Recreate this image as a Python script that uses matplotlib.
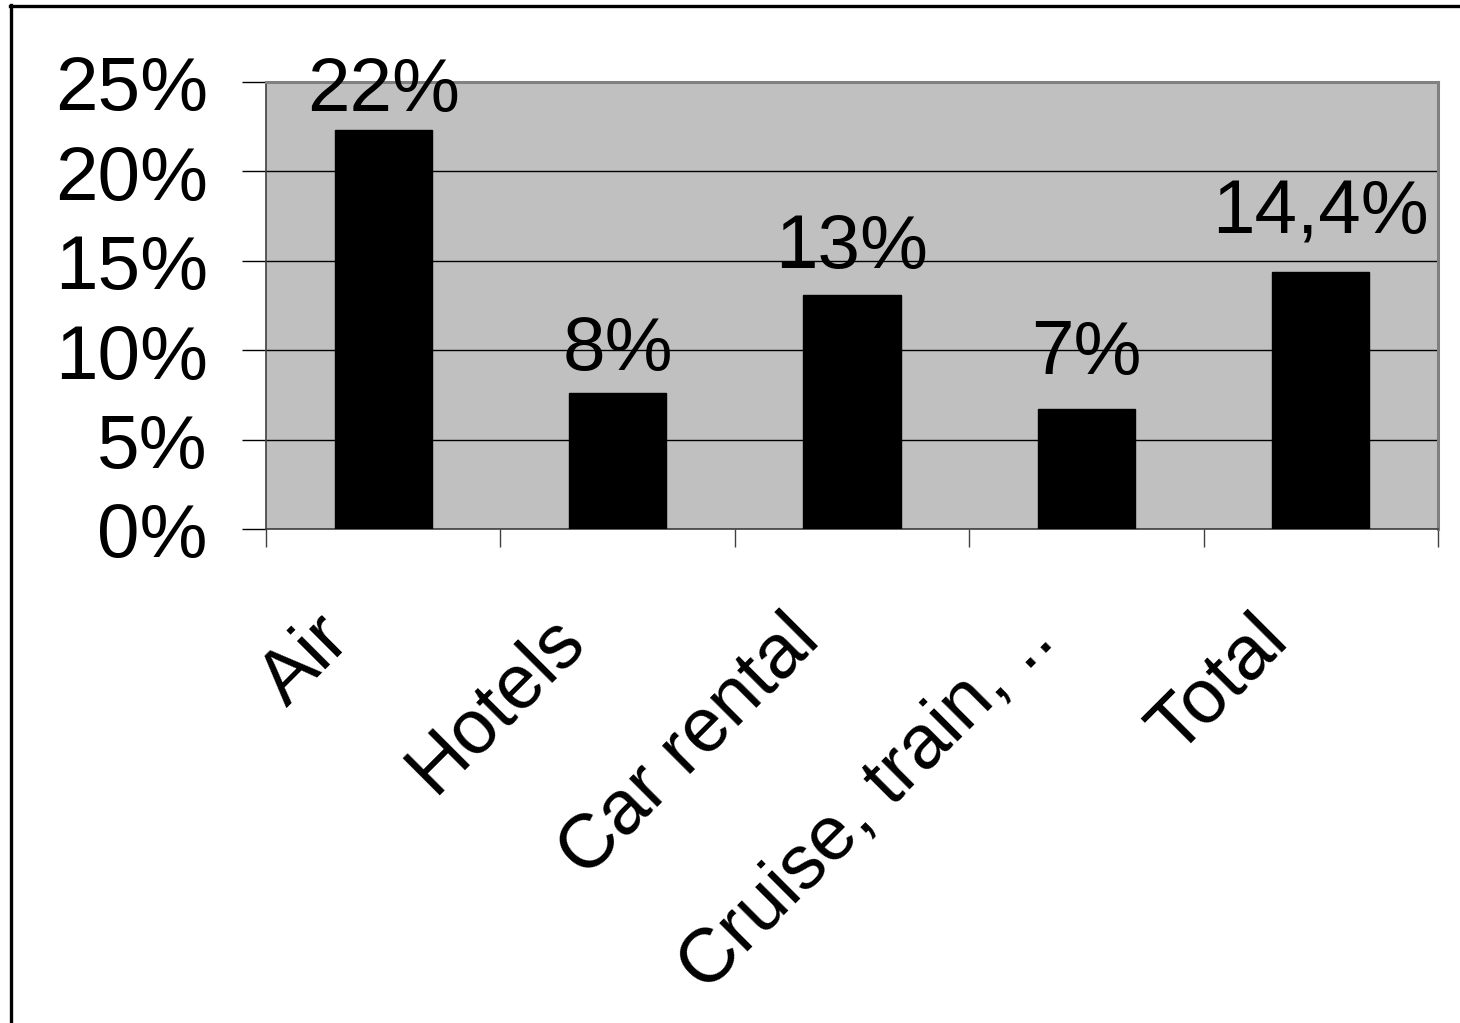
import matplotlib
matplotlib.use("Agg")
import matplotlib.pyplot as plt
from matplotlib.lines import Line2D

# Growth by travel segment
categories = ["Air", "Hotels", "Car rental", "Cruise, train, ..", "Total"]
values = [22.3, 7.6, 13.1, 6.7, 14.4]
label_decimals = [0, 0, 0, 0, 1]
y_ticks = [0, 5, 10, 15, 20, 25]

# vertical gap (pixels) between each bar top and its value label baseline
label_gaps_px = [19, 23, 27, 35, 38]

plt.rcParams["font.family"] = ["Liberation Sans", "DejaVu Sans"]
FS = 55
PX = 0.72  # points per pixel at 100 dpi

W, H = 1460, 1023
fig = plt.figure(figsize=(W / 100, H / 100), dpi=100)
fig.patch.set_facecolor("white")

# outer frame (top and left edges visible)
fig.add_artist(Line2D([10 / W, 1.0], [1 - 6 / H, 1 - 6 / H], color="black",
                      lw=2.4, transform=fig.transFigure))
fig.add_artist(Line2D([11 / W, 11 / W], [0.0, 1 - 5 / H], color="black",
                      lw=2.4, transform=fig.transFigure))

ax = fig.add_axes([266 / W, 1 - 529 / H, (1438 - 266) / W, (529 - 82) / H])
ax.set_facecolor("#c0c0c0")

x = list(range(len(categories)))
ax.bar(x, values, width=0.415, color="black", edgecolor="black", zorder=3)

ax.set_xlim(-0.5, len(categories) - 0.5)
ax.set_ylim(0, 25)

# y ticks and gridlines; the percentage labels are placed as text below
ax.set_yticks(y_ticks)
ax.set_yticklabels([""] * len(y_ticks))
ax.yaxis.grid(True, color="black", lw=1.0, zorder=1)
ax.set_axisbelow(True)
ax.tick_params(axis="y", direction="out", length=17, width=1.0, color="black")
for t in y_ticks:
    ax.annotate(f"{t}%", xy=(0, t), xycoords=("axes fraction", "data"),
                xytext=(-58 * PX, -9 * PX), textcoords="offset points",
                ha="right", va="center", fontsize=FS, annotation_clip=False)

# category boundaries carry the x ticks
ax.set_xticks([i - 0.5 for i in range(len(categories) + 1)])
ax.set_xticklabels([""] * (len(categories) + 1))
ax.tick_params(axis="x", direction="out", length=13, width=1.0, color="#404040")

for i, name in enumerate(categories):
    ax.annotate(name, xy=(i, 0), xycoords=("data", "axes fraction"),
                xytext=(-69 * PX, -74 * PX), textcoords="offset points",
                rotation=45, rotation_mode="anchor", ha="right", va="top",
                fontsize=FS, annotation_clip=False)

for i, (v, d, g) in enumerate(zip(values, label_decimals, label_gaps_px)):
    txt = f"{v:.{d}f}%".replace(".", ",")
    ax.annotate(txt, xy=(i, v), xytext=(0, g * PX), textcoords="offset points",
                ha="center", va="baseline", fontsize=FS, annotation_clip=False)

for side in ["top", "right"]:
    ax.spines[side].set_color("#808080")
    ax.spines[side].set_linewidth(2.2)
ax.spines["left"].set_color("#404040")
ax.spines["left"].set_linewidth(1.2)
ax.spines["bottom"].set_color("#404040")
ax.spines["bottom"].set_linewidth(1.2)

fig.savefig("out.png", dpi=100, facecolor="white")
